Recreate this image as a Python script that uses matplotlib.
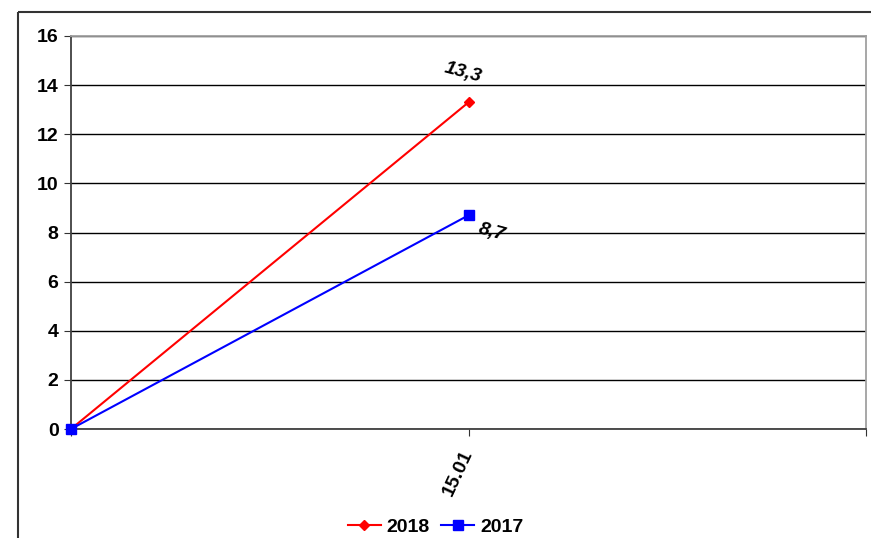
import matplotlib
matplotlib.use("Agg")
import matplotlib.pyplot as plt
from matplotlib.lines import Line2D

plt.rcParams['font.family'] = ['Liberation Sans', 'DejaVu Sans']
plt.rcParams['font.weight'] = 'bold'

categories = ["", "15.01", ""]
s2018 = [0, 13.3]
s2017 = [0, 8.7]
labels2018 = ["", "13,3"]
labels2017 = ["", "8,7"]

fig = plt.figure(figsize=(8.71, 5.38), dpi=100)
ax = fig.add_axes([71/871, 1 - 429/538, (866 - 71)/871, (429 - 36)/538])

# outer chart frame: only top and left edges are inside the picture
fx, fy = 18/871, 1 - 12/538
fig.lines.append(Line2D([fx, 1.05], [fy, fy], transform=fig.transFigure,
                        color='#333333', lw=1.5, solid_capstyle='butt'))
fig.lines.append(Line2D([fx, fx], [-0.05, fy], transform=fig.transFigure,
                        color='#333333', lw=1.5, solid_capstyle='butt'))

x = list(range(len(s2018)))
ax.plot(x, s2018, color='#FF0000', lw=1.5, marker='D', ms=5, label='2018',
        zorder=3, clip_on=False)
ax.plot(x, s2017, color='#0000FF', lw=1.5, marker='s', ms=7, label='2017',
        zorder=4, clip_on=False)

for xi, v, t in zip(x, s2018, labels2018):
    if t:
        ax.annotate(t, (xi, v), xytext=(-4, 21), textcoords='offset points',
                    ha='center', va='center', rotation=-15, style='italic',
                    fontsize=14, fontweight='bold')
for xi, v, t in zip(x, s2017, labels2017):
    if t:
        ax.annotate(t, (xi, v), xytext=(17, -12), textcoords='offset points',
                    ha='center', va='center', rotation=-15, style='italic',
                    fontsize=14, fontweight='bold')

ax.set_xlim(0, len(categories) - 1)
ax.set_ylim(0, 16)
ax.set_yticks(range(0, 17, 2))
ax.set_xticks(range(len(categories)))
ax.set_xticklabels(categories, rotation=65, ha='right', va='center',
                   rotation_mode='anchor')
ax.tick_params(axis='both', labelsize=14, direction='out', length=5, color='#333333')
ax.tick_params(axis='x', pad=11)
ax.tick_params(axis='y', pad=4)

ax.yaxis.grid(True, color='black', lw=1)
ax.set_axisbelow(True)
for side in ['left', 'bottom']:
    ax.spines[side].set_color('#404040')
    ax.spines[side].set_linewidth(1.3)
for side in ['top', 'right']:
    ax.spines[side].set_color('#A0A0A0')
    ax.spines[side].set_linewidth(1.3)

leg = fig.legend(loc='center', bbox_to_anchor=(0.5, 1 - 527/538), ncol=2,
                 frameon=False, fontsize=14, handlelength=1.7, columnspacing=0.6,
                 handletextpad=0.3, borderpad=0)
for t in leg.get_texts():
    t.set_fontweight('bold')

fig.savefig('out.png', dpi=100)
